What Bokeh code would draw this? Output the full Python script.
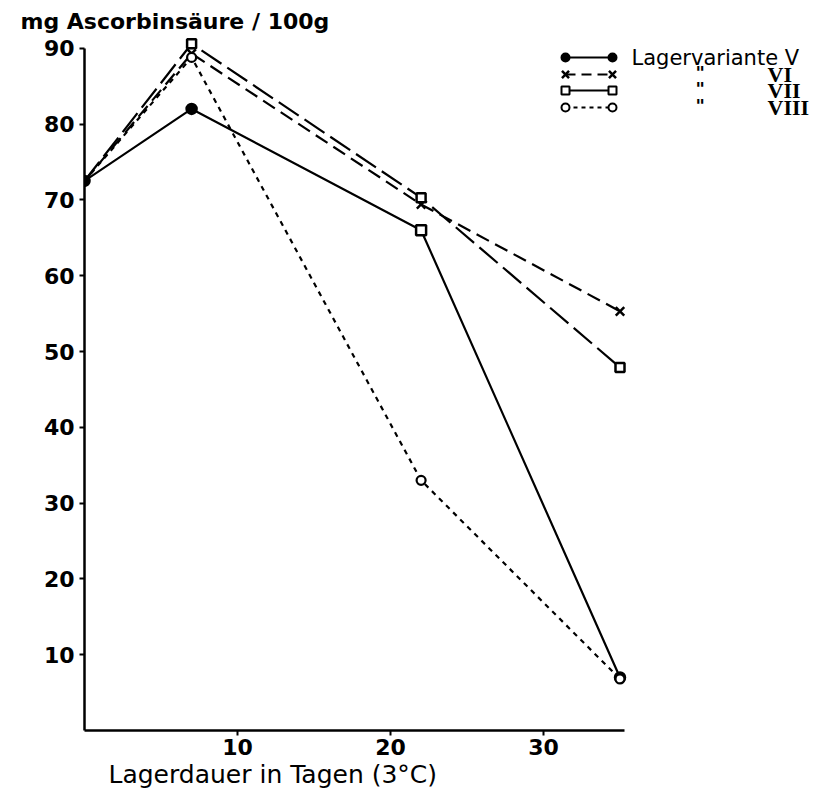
from bokeh.plotting import figure
from bokeh.models import Range1d, Label, FixedTicker, Title
from bokeh.embed import file_html
from bokeh.resources import INLINE

# ---- data ----
days = [0, 7, 22, 35]
var_v = [72.5, 82, 66, 7]
var_vi = [72.5, 89.3, 69.4, 55.3]
var_vii = [72.5, 90.6, 70.3, 47.9]
var_viii = [72.5, 88.8, 33, 6.8]
v_markers = ["circle", "circle", "square", "circle"]
v_fills = ["black", "black", "white", "black"]
x_ticks = [10, 20, 30]
y_ticks = [10, 20, 30, 40, 50, 60, 70, 80, 90]
legend_names = ["Lagervariante V", "VI", "VII", "VIII"]

# ---- layout ----
W, H = 836, 792
LEFT, TOP = 84, 34
AXIS_Y = 730                    # page y of the x axis
XPX, YPX = 15.3, 7.58           # pixels per unit
BOTTOM = H - AXIS_Y
X_END = (W - LEFT) / XPX
Y_END = (AXIS_Y - TOP) / YPX

def dx(page_x):
    return (page_x - LEFT) / XPX

def dy(page_y):
    return (AXIS_Y - page_y) / YPX

FONT = "DejaVu Sans"

p = figure(width=W, height=H, output_backend="svg", toolbar_location=None,
           x_range=Range1d(0, X_END), y_range=Range1d(0, Y_END),
           min_border_left=LEFT, min_border_bottom=BOTTOM,
           min_border_top=TOP, min_border_right=0)
p.outline_line_color = None
p.grid.visible = False
p.background_fill_color = "white"
p.border_fill_color = "white"

p.title.text = "mg  Ascorbinsäure / 100g"
p.title.text_font = FONT
p.title.text_font_size = "22px"
p.title.text_font_style = "bold"
p.title.align = "left"
p.title.offset = 20 - LEFT
p.title.standoff = 2
p.title.text_color = "black"

for ax in (p.xaxis[0], p.yaxis[0]):
    ax.axis_line_width = 2.5
    ax.axis_line_color = "black"
    ax.major_tick_line_width = 2
    ax.major_tick_line_color = "black"
    ax.major_tick_in = 0
    ax.major_tick_out = 5
    ax.minor_tick_line_color = None
    ax.major_label_text_font = FONT
    ax.major_label_text_font_style = "bold"
    ax.major_label_text_font_size = "22px"
    ax.major_label_text_color = "black"

p.xaxis[0].ticker = FixedTicker(ticks=x_ticks)
p.yaxis[0].ticker = FixedTicker(ticks=y_ticks)
p.xaxis[0].bounds = (0, 35.3)
p.yaxis[0].bounds = (0, 90)
p.xaxis[0].major_label_standoff = 3
p.yaxis[0].major_label_standoff = 5

p.add_layout(Title(text="Lagerdauer  in Tagen  (3°C)", text_font=FONT,
                   text_font_size="25px", text_font_style="normal",
                   align="left", offset=108 - LEFT, standoff=0,
                   text_color="black"), "below")

LW = 2.2
# V solid
p.line(days, var_v, line_color="black", line_width=LW)
p.scatter(days, var_v, marker=v_markers, size=10, fill_color=v_fills,
          line_color="black", line_width=2.5)
# VI dashed with x
p.line(days, var_vi, line_color="black", line_width=LW, line_dash="14 7")
p.scatter(days[1:], var_vi[1:], marker="x", size=12, line_color="black", line_width=2.5)
# VII long dashes with square
p.line(days, var_vii, line_color="black", line_width=LW, line_dash="24 7")
p.scatter(days[1:], var_vii[1:], marker="square", size=9, fill_color="white",
          line_color="black", line_width=2.5)
# VIII dotted with open circles
p.line(days, var_viii, line_color="black", line_width=LW, line_dash="5 5")
p.scatter(days[1:], var_viii[1:], marker="circle", size=9, fill_color="white",
          line_color="black", line_width=2.2)
# common start point
p.scatter([days[0]], [var_v[0]], marker="circle", size=10, fill_color="black", line_color="black")

# ---- legend (manual) ----
rows = [57, 74, 90, 107]
lx0, lx1 = dx(565), dx(612)
styles = [("circle", "solid", "black"), ("x", "10 6", None),
          ("square", "solid", "white"), ("circle", "4 4", "white")]
for i, (mk, dash, fill) in enumerate(styles):
    yy = dy(rows[i])
    p.line([lx0, lx1], [yy, yy], line_color="black", line_width=2, line_dash=dash)
    if mk == "x":
        p.scatter([lx0, lx1], [yy, yy], marker="x", size=10, line_color="black", line_width=2.5)
    else:
        p.scatter([lx0, lx1], [yy, yy], marker=mk, size=8, fill_color=fill,
                  line_color="black", line_width=2)

def lab(text, px, py, size="20px", style="normal", font=FONT):
    p.add_layout(Label(x=dx(px), y=dy(py), text=text, text_font=font,
                       text_font_size=size, text_font_style=style,
                       text_align="left", text_baseline="middle", text_color="black"))

lab(legend_names[0], 631, rows[0], size="21px")
for i in range(1, 4):
    lab('"', 695, rows[i] - 2, size="18px", style="bold")
    lab(legend_names[i], 767, rows[i], size="22px", style="bold", font="Liberation Serif")

open("out.html", "w").write(file_html(p, INLINE))
